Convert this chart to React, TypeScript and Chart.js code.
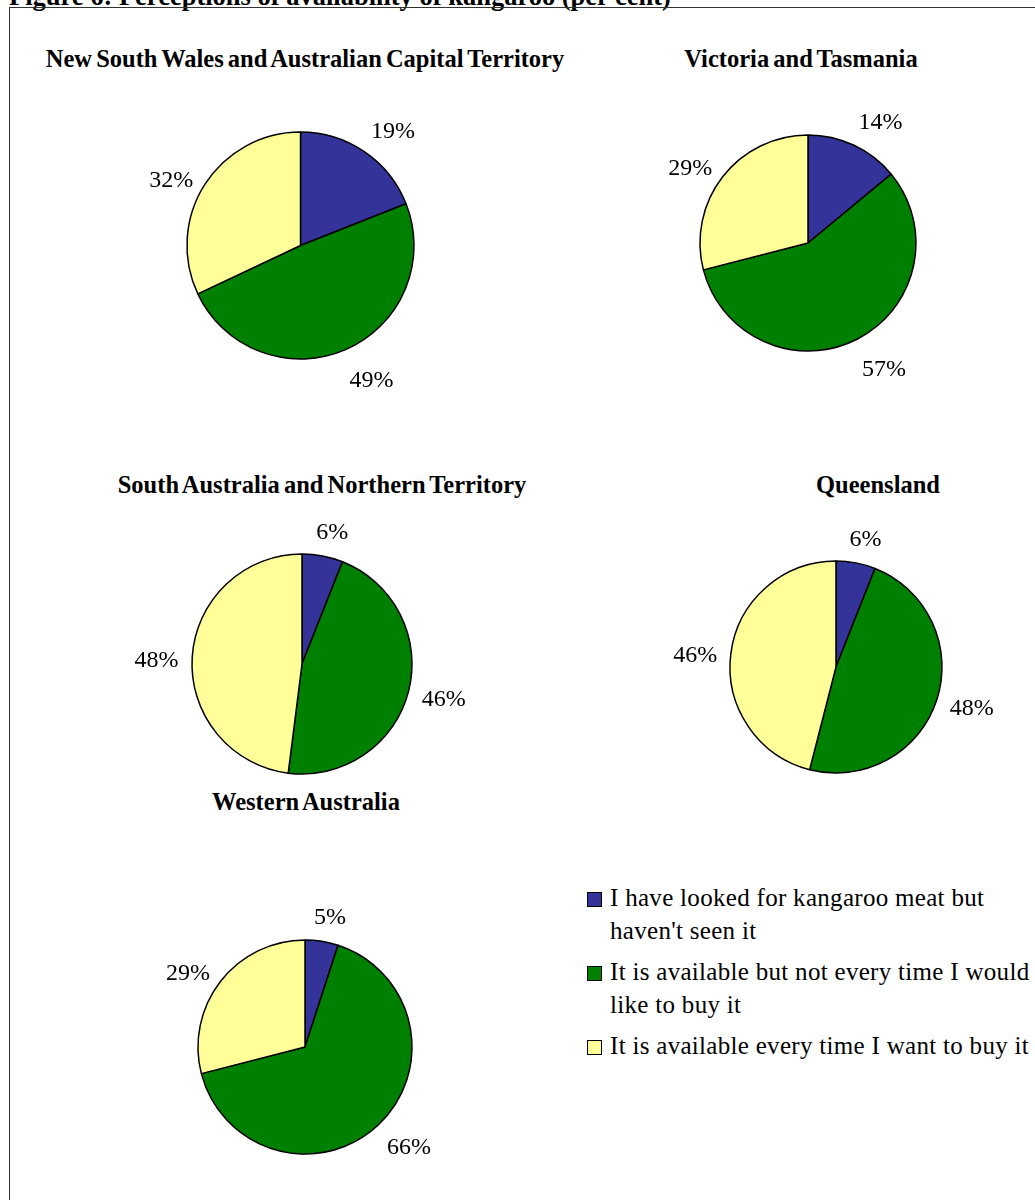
import React, { useEffect, useRef } from "react";
import { Chart, registerables } from "chart.js";

Chart.register(...registerables);

// ---------- data ----------
const FIGURE_TITLE = "Figure 6: Perceptions of availability of kangaroo (per cent)";
const CATEGORIES = [
  "I have looked for kangaroo meat but haven't seen it",
  "It is available but not every time I would like to buy it",
  "It is available every time I want to buy it",
];
const REGION_NAMES = [
  "New South Wales and Australian Capital Territory",
  "Victoria and Tasmania",
  "South Australia and Northern Territory",
  "Queensland",
  "Western Australia",
];
const NSW_ACT = [19, 49, 32];
const VIC_TAS = [14, 57, 29];
const SA_NT = [6, 46, 48];
const QLD = [6, 48, 46];
const WA = [5, 66, 29];
const REGION_VALUES = [NSW_ACT, VIC_TAS, SA_NT, QLD, WA];

// ---------- styles / layout ----------
const COLORS = ["#333399", "#008000", "#FFFF99"];
const SERIF = '"Liberation Serif", "Times New Roman", Times, serif';
const PIE_LAYOUT = [
  { cx: 300.5, cy: 245.5, r: 113.5, titleX: 305, titleY: 67 },
  { cx: 807.5, cy: 243, r: 108, titleX: 801, titleY: 67 },
  { cx: 301.5, cy: 664, r: 110, titleX: 322, titleY: 493 },
  { cx: 836, cy: 667, r: 106, titleX: 878, titleY: 493 },
  { cx: 305, cy: 1047, r: 107, titleX: 306, titleY: 810 },
];
const LEGEND_LEFT = 587;
const LEGEND_TOP = 882;
const LEGEND_STEP = 74;
const LABEL_FONT_PX = 24;

const clamp = (v: number, lo: number, hi: number) => Math.max(lo, Math.min(hi, v));

const pctLabels = {
  id: "pctLabels",
  afterDatasetsDraw(chart: any) {
    const ctx = chart.ctx;
    const meta = chart.getDatasetMeta(0);
    const data = chart.data.datasets[0].data;
    ctx.save();
    ctx.font = `${LABEL_FONT_PX}px ${SERIF}`;
    ctx.fillStyle = "#000";
    ctx.textAlign = "center";
    ctx.textBaseline = "alphabetic";
    meta.data.forEach((arc: any, i: number) => {
      const { x, y, startAngle, endAngle, outerRadius } = arc.getProps(
        ["x", "y", "startAngle", "endAngle", "outerRadius"],
        true
      );
      const a = (startAngle + endAngle) / 2;
      const c = Math.cos(a);
      const s = Math.sin(a);
      const text = `${data[i]}%`;
      const w = ctx.measureText(text).width;
      const d = outerRadius + 16;
      const hx = Math.sign(c) * clamp(Math.abs(c) * 2.5, 0, 1) * 0.9 * (w / 2);
      const vy = Math.sign(s) * clamp((Math.abs(s) - 0.55) / 0.3, 0, 1) * 12;
      const gx = x + c * d + hx;
      const gy = y + s * d + vy + 2.5;
      ctx.fillText(text, gx, gy + LABEL_FONT_PX * 0.33);
    });
    ctx.restore();
  },
};

function Pie({ values, layout }: { values: number[]; layout: any }) {
  const ref = useRef<HTMLCanvasElement>(null);
  const W = Math.round(2 * (layout.r + 85));
  const H = Math.round(2 * (layout.r + 60));
  useEffect(() => {
    const chart = new Chart(ref.current as HTMLCanvasElement, {
      type: "pie",
      data: {
        labels: CATEGORIES,
        datasets: [
          {
            data: values,
            backgroundColor: COLORS,
            borderColor: "#000000",
            borderWidth: 1.5,
            radius: layout.r,
          } as any,
        ],
      },
      options: {
        animation: false,
        responsive: false,
        maintainAspectRatio: false,
        layout: { padding: 0 },
        plugins: {
          legend: { display: false },
          tooltip: { enabled: false },
          title: { display: false },
        },
      },
      plugins: [pctLabels],
    });
    return () => chart.destroy();
  }, []);
  return (
    <canvas
      ref={ref}
      width={W}
      height={H}
      style={{
        position: "absolute",
        left: layout.cx - W / 2,
        top: layout.cy - H / 2,
        width: W,
        height: H,
      }}
    />
  );
}

export default function App() {
  return (
    <div
      style={{
        position: "absolute",
        left: 0,
        top: 0,
        width: 1035,
        height: 1200,
        overflow: "hidden",
        background: "#fff",
        fontFamily: SERIF,
        color: "#000",
      }}
    >
      <div
        style={{
          position: "absolute",
          left: 9,
          top: -17,
          font: `bold 26.5px ${SERIF}`,
          lineHeight: "26px",
          whiteSpace: "nowrap",
        }}
      >
        {FIGURE_TITLE}
      </div>
      <div
        style={{
          position: "absolute",
          left: 9,
          top: 7,
          width: 1200,
          height: 1400,
          border: "1px solid #333",
          boxSizing: "border-box",
        }}
      />
      {PIE_LAYOUT.map((l, i) => (
        <div
          key={"t" + i}
          style={{
            position: "absolute",
            left: l.titleX,
            top: l.titleY - 21,
            transform: "translateX(-50%)",
            font: `bold 24.5px ${SERIF}`,
            lineHeight: "25px",
            whiteSpace: "nowrap",
            wordSpacing: -2,
          }}
        >
          {REGION_NAMES[i]}
        </div>
      ))}
      {PIE_LAYOUT.map((l, i) => (
        <Pie key={"p" + i} values={REGION_VALUES[i]} layout={l} />
      ))}
      {CATEGORIES.map((c, i) => (
        <div
          key={"l" + i}
          style={{
            position: "absolute",
            left: LEGEND_LEFT,
            top: LEGEND_TOP + i * LEGEND_STEP,
            width: 470,
          }}
        >
          <div
            style={{
              position: "absolute",
              left: 0,
              top: 10,
              width: 15,
              height: 15,
              boxSizing: "border-box",
              border: "1px solid #000",
              background: COLORS[i],
            }}
          />
          <div
            style={{
              marginLeft: 23,
              font: `25px ${SERIF}`,
              lineHeight: "33px",
              letterSpacing: 0.3,
              width: 440,
              marginTop: -1,
            }}
          >
            {c}
          </div>
        </div>
      ))}
    </div>
  );
}
